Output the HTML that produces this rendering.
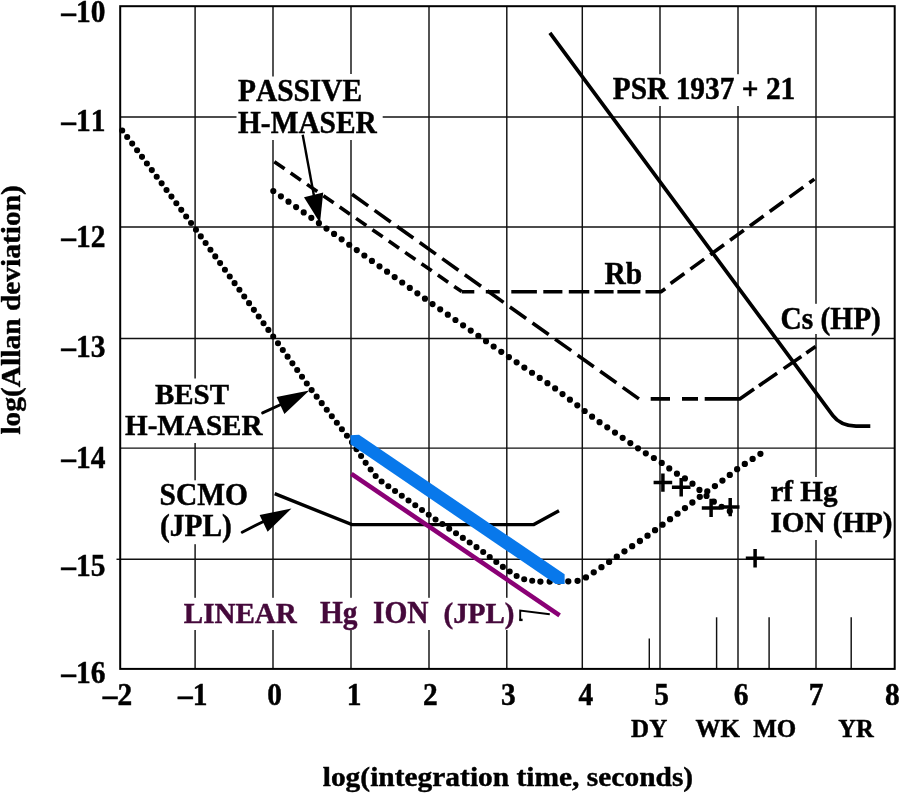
<!DOCTYPE html>
<html><head><meta charset="utf-8"><title>Allan deviation chart</title>
<style>html,body{margin:0;padding:0;background:#fff;}svg{display:block;will-change:transform;}text{font-family:"Liberation Serif",serif;font-weight:bold;font-kerning:none;}</style></head><body>
<svg width="900" height="793" viewBox="0 0 900 793">
<rect x="0" y="0" width="900" height="793" fill="#fff"/>
<g stroke="#111" stroke-width="1.45" fill="none">
<line x1="195.1" y1="6.2" x2="195.1" y2="668.9"/>
<line x1="273.0" y1="6.2" x2="273.0" y2="668.9"/>
<line x1="351.0" y1="6.2" x2="351.0" y2="668.9"/>
<line x1="429.0" y1="6.2" x2="429.0" y2="668.9"/>
<line x1="506.8" y1="6.2" x2="506.8" y2="668.9"/>
<line x1="582.3" y1="6.2" x2="582.3" y2="668.9"/>
<line x1="660.0" y1="6.2" x2="660.0" y2="668.9"/>
<line x1="738.0" y1="6.2" x2="738.0" y2="668.9"/>
<line x1="816.0" y1="6.2" x2="816.0" y2="668.9"/>
<line x1="120.2" y1="559.3" x2="894.7" y2="559.3"/>
<line x1="120.2" y1="448.1" x2="894.7" y2="448.1"/>
<line x1="120.2" y1="338.4" x2="894.7" y2="338.4"/>
<line x1="120.2" y1="227.0" x2="894.7" y2="227.0"/>
<line x1="120.2" y1="117.0" x2="894.7" y2="117.0"/>
<line x1="649.3" y1="638.5" x2="649.3" y2="668.9"/>
<line x1="716.6" y1="617.3" x2="716.6" y2="668.9"/>
<line x1="769.1" y1="617.3" x2="769.1" y2="668.9"/>
<line x1="851.2" y1="617.3" x2="851.2" y2="668.9"/>
<line x1="116.5" y1="559.3" x2="120.2" y2="559.3"/>
</g>
<g fill="#fff">
<rect x="270.5" y="76.5" width="5.0" height="63.5"/>
<rect x="348.5" y="74" width="5.0" height="66"/>
<rect x="236.5" y="114.5" width="146.2" height="5.0"/>
<rect x="192.6" y="378.5" width="5.0" height="64.5"/>
<rect x="192.6" y="480.3" width="5.0" height="63.9"/>
<rect x="192.6" y="597.8" width="5.0" height="32.2"/>
<rect x="270.5" y="597.8" width="5.0" height="32.2"/>
<rect x="348.5" y="597.8" width="5.0" height="32.2"/>
<rect x="426.5" y="597.8" width="5.0" height="32.2"/>
<rect x="504.3" y="597.8" width="5.0" height="32.2"/>
<rect x="657.5" y="74.2" width="5.0" height="31.8"/>
<rect x="735.5" y="74.2" width="5.0" height="31.8"/>
<rect x="813.5" y="303.8" width="5.0" height="30.2"/>
<rect x="813.5" y="477.0" width="5.0" height="63.0"/>
</g>
<rect x="120.2" y="6.2" width="774.5" height="662.7" fill="none" stroke="#000" stroke-width="2.0"/>
<g stroke="#000" stroke-width="3.6" fill="none" stroke-linejoin="miter">
<path d="M274.3,161.7 L461.7,291.6" stroke-dasharray="12.5 7.4"/>
<path d="M461.7,291.7 L661.1,291.7 L665.2,288.7" stroke-dasharray="12.6 11.5 14 11.5 25.6 6.4 19.1 6.4 20.5 5.1 19.2 3.8 23 5.1 40"/>
<path d="M670.6,283.5 L814.4,179.1" stroke-dasharray="17 7.5"/>
<path d="M352.0,194.3 L638.9,398.9" stroke-dasharray="19.9 7.81"/>
<path d="M650.7,398.9 L739.8,398.9 L815.6,346.6" stroke-dasharray="19.3 12 16 6.7 52.4 6 22 8 21.5 6 30"/>
</g>
<g stroke="#000" fill="none" stroke-linecap="round" stroke-linejoin="round">
<path d="M122.2,130.5 L132.4,143.9 L195.6,229.2 L273.3,336.7 L311.0,389.3 L351.7,441.9 L366,463.4 L378,479 L403.5,497 L429,515 L480,549.5 L501.6,566.0 L515.6,575.5 L526.4,580.2 L540.4,581.6" stroke-width="6.1" stroke-dasharray="0 8.2410"/>
<path d="M540.4,581.6 L564,581.6 L580.9,580.6 L590.2,574.7 L604.2,565.3 L627.6,549.2 L643.1,538.9 L659.3,527.1 L680.5,511.5 L703.8,493.8 L719.4,482.9 L739.6,467.3 L764.5,451.2" stroke-width="6.3" stroke-dasharray="0 9.3" stroke-dashoffset="-9.3"/>
<path d="M273.3,191.0 L318.3,222.7 L430,302.3 L508.3,356.7 L555,388.3 L597.8,421.0 L613.6,431.6 L643.1,451.8 L659.3,461.1 L674.2,472 L689.8,481.3 L703.8,493.8 L717.8,504.7 L735.5,514.2" stroke-width="6.2" stroke-dasharray="0 9.3"/>
</g>
<g stroke="#000" fill="none" stroke-linejoin="miter">
<path d="M549.9,32.8 L832.9,415.6 C837.6,421.9 845,425.8 856,426.2 L870.3,426.2" stroke-width="3.7"/>
<path d="M274.7,493.7 L351.9,524.6 L533.8,524.6 L559.0,510.7" stroke-width="3.4"/>
</g>
<line x1="351.4" y1="473.8" x2="559.6" y2="615.3" stroke="#8a0075" stroke-width="4.6"/>
<polygon points="350.5,435.3 359.0,434.8 564.6,574.2 564.6,584 555.6,584 350.5,444.3" fill="#0878eb"/>
<g stroke="#000" fill="none">
<line x1="302.7" y1="134.7" x2="314" y2="196" stroke-width="2.4"/>
<line x1="262.6" y1="412.9" x2="282" y2="404.0" stroke-width="2.9" stroke-linecap="round"/>
<line x1="242.2" y1="532.2" x2="264" y2="521.2" stroke-width="2.9" stroke-linecap="round"/>
<path d="M520.2,620.8 L520.2,610.6 L549.8,614.3" stroke-width="1.9"/>
<path d="M519.4,619.9 L522.6,619.9" stroke-width="2.4"/>
</g>
<g fill="#000">
<polygon points="304,197.3 323.2,192.5 320,223"/>
<polygon points="276.6,397.1 284.4,413.9 309.3,390.4"/>
<polygon points="259.6,514.9 267.6,531.7 291.5,508.4"/>
</g>
<g stroke="#000" stroke-width="3.5" fill="none">
<path d="M653.6,482.6 H672.1999999999999 M662.9,473.40000000000003 V491.8"/>
<path d="M671.9000000000001,487.2 H690.5 M681.2,478.0 V496.4"/>
<path d="M701.8000000000001,507.9 H720.4 M711.1,498.7 V517.1"/>
<path d="M720.9000000000001,507.1 H739.5 M730.2,497.90000000000003 V516.3000000000001"/>
<path d="M745.8000000000001,558.3 H764.4 M755.1,549.0999999999999 V567.5"/>
</g>
<text transform="translate(105.4,21.8) scale(1,1.042)" font-size="29.4" text-anchor="end" fill="#000" stroke="#000" stroke-width="0.45">–10</text>
<text transform="translate(105.4,130.7) scale(1,1.042)" font-size="29.4" text-anchor="end" fill="#000" stroke="#000" stroke-width="0.45">–11</text>
<text transform="translate(105.4,246.5) scale(1,1.042)" font-size="29.4" text-anchor="end" fill="#000" stroke="#000" stroke-width="0.45">–12</text>
<text transform="translate(105.4,357.2) scale(1,1.042)" font-size="29.4" text-anchor="end" fill="#000" stroke="#000" stroke-width="0.45">–13</text>
<text transform="translate(105.4,467.8) scale(1,1.042)" font-size="29.4" text-anchor="end" fill="#000" stroke="#000" stroke-width="0.45">–14</text>
<text transform="translate(105.4,575.5) scale(1,1.042)" font-size="29.4" text-anchor="end" fill="#000" stroke="#000" stroke-width="0.45">–15</text>
<text transform="translate(105.4,683.3) scale(1,1.042)" font-size="29.4" text-anchor="end" fill="#000" stroke="#000" stroke-width="0.45">–16</text>
<text transform="translate(117.55,705.0) scale(1,1.042)" font-size="29.4" text-anchor="middle" fill="#000" stroke="#000" stroke-width="0.45">–2</text>
<text transform="translate(192.7,705.0) scale(1,1.042)" font-size="29.4" text-anchor="middle" fill="#000" stroke="#000" stroke-width="0.45">–1</text>
<text transform="translate(274.5,705.0) scale(1,1.042)" font-size="29.4" text-anchor="middle" fill="#000" stroke="#000" stroke-width="0.45">0</text>
<text transform="translate(354.2,705.0) scale(1,1.042)" font-size="29.4" text-anchor="middle" fill="#000" stroke="#000" stroke-width="0.45">1</text>
<text transform="translate(430.3,705.0) scale(1,1.042)" font-size="29.4" text-anchor="middle" fill="#000" stroke="#000" stroke-width="0.45">2</text>
<text transform="translate(508.3,705.0) scale(1,1.042)" font-size="29.4" text-anchor="middle" fill="#000" stroke="#000" stroke-width="0.45">3</text>
<text transform="translate(585.8,705.0) scale(1,1.042)" font-size="29.4" text-anchor="middle" fill="#000" stroke="#000" stroke-width="0.45">4</text>
<text transform="translate(661.7,705.0) scale(1,1.042)" font-size="29.4" text-anchor="middle" fill="#000" stroke="#000" stroke-width="0.45">5</text>
<text transform="translate(741,705.0) scale(1,1.042)" font-size="29.4" text-anchor="middle" fill="#000" stroke="#000" stroke-width="0.45">6</text>
<text transform="translate(816,705.0) scale(1,1.042)" font-size="29.4" text-anchor="middle" fill="#000" stroke="#000" stroke-width="0.45">7</text>
<text transform="translate(892.3,705.0) scale(1,1.042)" font-size="29.4" text-anchor="middle" fill="#000" stroke="#000" stroke-width="0.45">8</text>
<text transform="translate(631.1,736.9) scale(1,1.042)" font-size="25" text-anchor="start" fill="#000" stroke="#000" stroke-width="0.45">DY</text>
<text transform="translate(695.6,736.9) scale(1,1.042)" font-size="25" text-anchor="start" fill="#000" stroke="#000" stroke-width="0.45">WK</text>
<text transform="translate(753.2,736.9) scale(1,1.042)" font-size="25" text-anchor="start" fill="#000" stroke="#000" stroke-width="0.45">MO</text>
<text transform="translate(838.3,736.9) scale(1,1.042)" font-size="24.6" text-anchor="start" fill="#000" stroke="#000" stroke-width="0.45">YR</text>
<text transform="translate(322.7,786.0) scale(1,0.95)" font-size="29.45" text-anchor="start" fill="#000" stroke="#000" stroke-width="0.45">log(integration time, seconds)</text>
<text transform="translate(20.2,434.6) rotate(-90) scale(1,0.95)" font-size="29.45" fill="#000" stroke="#000" stroke-width="0.45">log(Allan deviation)</text>
<text transform="translate(238.0,101.3) scale(1,1.042)" font-size="29.4" text-anchor="start" fill="#000" stroke="#000" stroke-width="0.45">PASSIVE</text>
<text transform="translate(238.0,132.5) scale(1,1.042)" font-size="29.4" text-anchor="start" fill="#000" stroke="#000" stroke-width="0.45">H-MASER</text>
<text transform="translate(155,403.5) scale(1,1.042)" font-size="28.95" text-anchor="start" fill="#000" stroke="#000" stroke-width="0.45">BEST</text>
<text transform="translate(125,435.2) scale(1,1.042)" font-size="29.15" text-anchor="start" fill="#000" stroke="#000" stroke-width="0.45">H-MASER</text>
<text transform="translate(159.6,504.5) scale(1,1.042)" font-size="29.4" text-anchor="start" fill="#000" stroke="#000" stroke-width="0.45">SCMO</text>
<text transform="translate(160.0,536.2) scale(1,1.042)" font-size="29.4" text-anchor="start" fill="#000" stroke="#000" stroke-width="0.45">(JPL)</text>
<text transform="translate(612.8,99.0) scale(1,1.042)" font-size="29.4" text-anchor="start" fill="#000" stroke="#000" stroke-width="0.45">PSR 1937 + 21</text>
<text transform="translate(604.6,284.3) scale(1,1.042)" font-size="29.4" text-anchor="start" fill="#000" stroke="#000" stroke-width="0.45">Rb</text>
<text transform="translate(780.5,328.6) scale(1,1.042)" font-size="29.4" text-anchor="start" fill="#000" stroke="#000" stroke-width="0.45">Cs (HP)</text>
<text transform="translate(770.4,501.0) scale(1,1.042)" font-size="29.1" text-anchor="start" fill="#000" stroke="#000" stroke-width="0.45">rf Hg</text>
<text transform="translate(770.4,532.4) scale(1,1.042)" font-size="29.15" text-anchor="start" fill="#000" stroke="#000" stroke-width="0.45">ION (HP)</text>
<text transform="translate(183.8,623.0) scale(1,1.042)" font-size="29.05" text-anchor="start" fill="#45093b" stroke="#45093b" stroke-width="0.45">LINEAR</text>
<text transform="translate(319.9,623.0) scale(1,1.042)" font-size="29.4" text-anchor="start" fill="#45093b" stroke="#45093b" stroke-width="0.45">Hg</text>
<text transform="translate(373.0,623.0) scale(1,1.042)" font-size="29.4" text-anchor="start" fill="#45093b" stroke="#45093b" stroke-width="0.45">ION</text>
<text transform="translate(443.6,623.0) scale(1,1.042)" font-size="29.0" text-anchor="start" fill="#45093b" stroke="#45093b" stroke-width="0.45">(JPL)</text>
</svg></body></html>
